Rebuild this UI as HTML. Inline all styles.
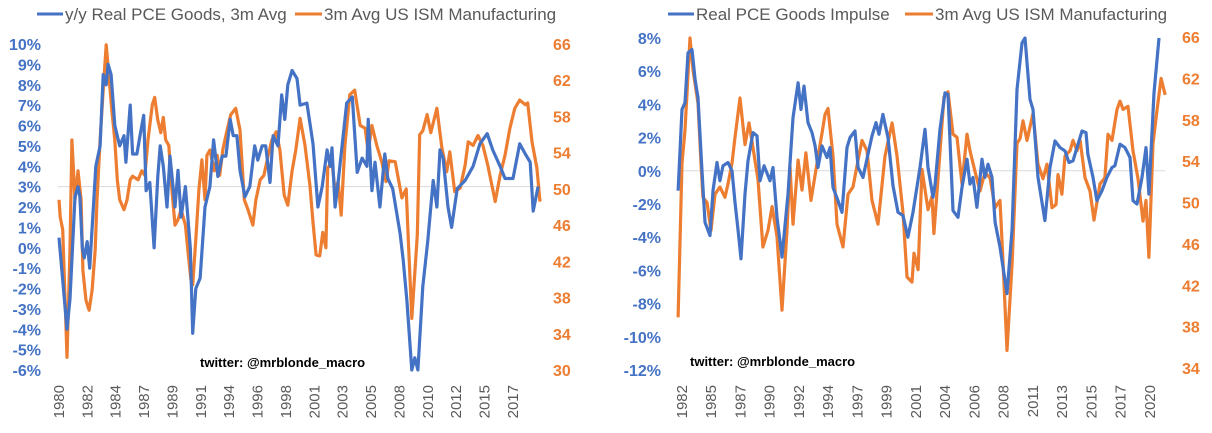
<!DOCTYPE html>
<html><head><meta charset="utf-8"><style>
html,body{margin:0;padding:0;background:#fff}
svg{display:block;font-family:"Liberation Sans",sans-serif}
.yl{font-weight:bold;font-size:16px}
.xt{font-size:15px;fill:#595959}
.lg{font-size:17px;fill:#595959}
.wm{font-weight:bold;font-size:13px;fill:#000}
</style></head><body>
<svg id="chart" width="1212" height="433" viewBox="0 0 1212 433">
<g id="left"></g>
<g id="right"></g>
</svg>
<script>
// ---------- Left panel data ----------
const lPceDates=[1980.0,1980.65,1980.9,1981.3,1981.55,1981.7,1981.9,1982.05,1982.3,1982.5,1982.8,1983.0,1983.35,1983.6,1983.85,1984.0,1984.25,1984.55,1984.95,1985.3,1985.45,1985.8,1986.0,1986.35,1986.6,1986.9,1987.1,1987.4,1987.75,1988.05,1988.25,1988.5,1988.8,1989.05,1989.45,1989.7,1989.95,1990.3,1990.7,1990.9,1991.15,1991.5,1991.9,1992.3,1992.6,1992.95,1993.3,1993.6,1993.95,1994.2,1994.5,1994.75,1995.15,1995.55,1995.95,1996.2,1996.55,1996.85,1997.2,1997.45,1997.85,1998.15,1998.4,1998.65,1999.0,1999.4,1999.65,2000.2,2000.7,2001.1,2001.45,2001.85,2002.1,2002.25,2002.5,2002.75,2003.45,2003.9,2004.3,2004.7,2005.1,2005.2,2005.5,2005.75,2006.15,2006.55,2006.8,2007.2,2007.8,2008.05,2008.35,2008.75,2009.0,2009.25,2009.65,2010.05,2010.5,2010.8,2011.05,2011.3,2011.7,2012.0,2012.45,2013.1,2013.75,2014.3,2014.9,2015.35,2015.95,2016.35,2017.0,2017.55,2018.0,2018.4,2018.65,2019.05];
const lPceVals=[0.5,-4,-2.5,2.5,3,2.5,0,-0.5,0.3,-1,2,4,5,8.5,8,9,8.5,6,5,5.5,4.2,7,4.6,4.6,5.5,6.5,2.8,3.2,0,3.5,5,4,2,4.5,2,3.8,1.5,3,0,-4.2,-2,-1.5,2,3,5.3,3.5,4.5,4.5,6.3,5.5,5.5,3.8,2.5,3,5,4.3,5,5,3.2,5.5,5,7.5,6.3,8,8.7,8.3,7,7.1,5.1,2,3,4.8,4,4.9,2,3.2,7.1,7.4,3.7,4.4,4,6.3,2.8,4.2,2,4.6,3.4,2.9,0.7,-0.6,-2.6,-6,-5.4,-6,-1.9,0.3,3.3,2,4.8,4.4,2,1,2.9,3.3,4,5.1,5.6,4.8,4,3.4,3.4,5.1,4.6,4.2,1.8,3];
const lIsmDates=[1980.0,1980.1,1980.3,1980.5,1980.65,1980.9,1981.05,1981.3,1981.55,1981.8,1981.95,1982.2,1982.45,1982.7,1982.95,1983.1,1983.35,1983.6,1983.85,1984.1,1984.3,1984.55,1984.75,1984.95,1985.3,1985.55,1985.8,1986.0,1986.45,1986.75,1987.0,1987.25,1987.6,1987.8,1988.05,1988.3,1988.5,1988.7,1988.95,1989.2,1989.45,1989.7,1989.95,1990.3,1990.5,1990.75,1990.9,1991.15,1991.4,1991.65,1991.9,1992.05,1992.3,1992.65,1992.9,1993.1,1993.35,1993.7,1994.0,1994.4,1994.75,1995.1,1995.4,1995.8,1996.05,1996.4,1996.7,1997.05,1997.35,1997.7,1998.0,1998.35,1998.65,1999.0,1999.3,1999.65,2000.05,2000.45,2000.7,2000.95,2001.25,2001.5,2001.75,2001.9,2002.25,2002.5,2002.75,2003.0,2003.3,2003.7,2004.1,2004.55,2004.95,2005.2,2005.5,2005.9,2006.3,2006.65,2006.9,2007.4,2007.95,2008.3,2008.45,2008.75,2009.2,2009.4,2009.65,2010.0,2010.3,2010.8,2011.2,2011.6,2011.85,2012.25,2012.7,2013.1,2013.35,2013.75,2014.15,2014.55,2014.95,2015.55,2015.95,2016.35,2016.75,2017.15,2017.55,2018.0,2018.2,2018.55,2018.95,2019.2];
const lIsmVals=[48.8,46.9,45.5,37.7,31.4,43.3,55.4,48.8,52,48.8,41,37.7,36.6,38.8,43.3,48.8,55.4,60.9,65.9,62,58.7,55.4,51,48.8,47.7,48.8,51,51.4,51,52,51.5,55.4,59.3,60.1,57.6,56.2,57.9,55.4,54.8,49.9,46,46.6,47.7,46,43.3,40,39.4,44.4,49.9,53.2,48.8,53.7,54.3,52,53.7,51.5,54.3,56.5,58.2,58.9,56.5,48.8,47.7,46,48.8,51,51.5,53.7,55.4,56.3,54.3,49.3,48.2,52,54.3,57.8,54.8,50.4,46.3,42.7,42.6,45.2,43.5,52.3,53,49.7,50.8,47.1,54.8,60.4,60.9,57,56.7,54.1,57,54.8,53,50.8,53.1,53,49,50,44.9,35.7,44.9,56,56.4,58.2,56.2,58.9,54.6,51.9,54.1,49.7,50.1,52.6,55.2,54.8,55.9,54.8,52.6,48.6,51.5,53.7,56.7,58.9,59.8,59.3,59.5,55.2,52.3,48.6];
const lLeftTicks=["10%","9%","8%","7%","6%","5%","4%","3%","2%","1%","0%","-1%","-2%","-3%","-4%","-5%","-6%"];
const lLeftTickVals=[10,9,8,7,6,5,4,3,2,1,0,-1,-2,-3,-4,-5,-6];
const lRightTickVals=[66,62,58,54,50,46,42,38,34,30];
const lXLabels=["1980","1982","1984","1987","1989","1991","1994","1996","1998","2001","2003","2005","2008","2010","2012","2015","2017"];

// ---------- Right panel data ----------
const rPceDates=[1981.68,1982.0,1982.24,1982.49,1982.81,1983.06,1983.3,1983.62,1983.87,1984.27,1984.52,1984.84,1985.08,1985.33,1985.73,1986.06,1986.3,1986.55,1986.79,1987.11,1987.36,1987.76,1988.09,1988.33,1988.66,1989.14,1989.39,1989.71,1990.12,1990.6,1991.01,1991.42,1991.66,1991.9,1992.23,1992.55,1992.8,1993.04,1993.36,1993.77,1994.01,1994.26,1994.66,1994.99,1995.39,1995.64,1996.04,1996.29,1996.69,1997.1,1997.42,1997.75,1997.99,1998.31,1998.72,1999.13,1999.53,1999.94,2000.34,2000.75,2001.32,2001.72,2001.97,2002.37,2002.54,2002.94,2003.35,2003.59,2004.0,2004.4,2004.73,2005.13,2005.38,2005.62,2005.94,2006.35,2006.59,2006.84,2007.16,2007.41,2007.81,2008.38,2008.79,2009.19,2009.6,2009.84,2010.25,2010.49,2010.9,2011.46,2011.87,2012.28,2012.68,2013.09,2013.41,2013.74,2014.14,2014.47,2014.79,2014.95,2015.36,2015.68,2016.09,2016.49,2016.9,2017.14,2017.55,2017.96,2018.36,2018.61,2018.93,2019.34,2019.66,2019.9,2020.31,2020.72];
const rPceVals=[-1.2,3.7,4.1,7.1,7.3,5.5,4.4,0,-3.1,-3.9,-1.2,0.5,-0.6,0.3,0.5,0,-1.9,-3.6,-5.3,-1.4,0.6,2.3,2.1,-0.6,0.3,-0.6,0.2,-2.8,-5.2,-1.4,3.2,5.3,3.7,5.1,2.9,2.3,1.5,0.2,1.5,0.8,1.4,-1,-1.8,-2.5,1.4,2,2.4,0.2,-0.4,1,2.1,2.9,2.2,3.4,2,-0.9,-2.5,-2.7,-4,-2.5,0.2,2.5,0.2,-1.6,-0.8,2.5,4.7,4.6,-2.4,-2.8,-1,0.7,-0.8,-0.4,-2.2,0.7,-0.4,0.4,-0.4,-3.1,-4.6,-7.4,-3.5,4.9,7.7,8,4.3,3.7,-0.4,-3,0.2,1.8,1.4,1.2,0.5,0.6,1.6,2.4,2.3,1,-0.4,-1.8,-1.2,-0.4,0.2,0.3,1.6,1.4,0.8,-1.8,-2,-0.4,1.4,-1.4,4.7,8];
const rIsmDates=[1981.68,1982.0,1982.24,1982.65,1982.89,1983.3,1983.54,1983.7,1984.03,1984.35,1984.68,1985.08,1985.49,1985.73,1986.06,1986.3,1986.71,1987.11,1987.44,1987.76,1988.17,1988.57,1988.98,1989.31,1989.71,1990.12,1990.52,1990.77,1991.01,1991.42,1991.74,1992.06,1992.47,1992.96,1993.36,1993.61,1993.85,1994.26,1994.58,1995.07,1995.47,1995.88,1996.29,1996.61,1997.02,1997.42,1997.91,1998.48,1999.05,1999.45,1999.94,2000.26,2000.67,2000.83,2001.16,2001.48,2001.97,2002.29,2002.45,2002.78,2003.27,2003.59,2004.0,2004.32,2004.73,2005.13,2005.38,2005.78,2006.19,2006.59,2007.0,2007.41,2007.81,2008.06,2008.38,2008.79,2009.19,2009.44,2009.68,2010.0,2010.49,2010.9,2011.3,2011.63,2012.03,2012.36,2012.52,2012.84,2013.09,2013.49,2013.74,2014.06,2014.31,2014.71,2015.12,2015.44,2015.93,2016.33,2016.58,2016.9,2017.31,2017.55,2017.8,2018.2,2018.61,2019.01,2019.42,2019.66,2019.9,2020.23,2020.56,2020.89,2021.22];
const rIsmVals=[38.9,53.8,57,65.9,62.8,59.6,53.8,50.5,50,47.3,50.8,51.5,50.5,51.8,53.8,56.3,60.1,55.6,57.7,55.3,52.2,45.7,47.3,49.6,46.7,39.6,47.3,53.5,47.9,54.1,51.2,54.8,50.2,53.8,56.7,58.5,59.1,54.5,47.9,45.7,50.8,51.5,54.1,56,55,50.2,47.9,54.5,57.7,54.5,49,42.8,42.3,45.1,43.5,53.2,49.3,50.6,47,52.3,60.2,60.7,56.6,56.3,51.8,56.6,55,53,51.1,52.9,52.4,49.5,50.2,44.1,35.7,44.1,55.7,56.2,57.9,56,58.6,53.7,52.3,53.7,49.5,49.8,52.7,50.8,54.5,55,56,55,56,52.4,51.1,48.3,51.8,52.4,56.6,56,59,59.8,59,59.3,55,52.3,48.2,50.2,44.7,55.7,59,62,60.4];
const rLeftTicks=["8%","6%","4%","2%","0%","-2%","-4%","-6%","-8%","-10%","-12%"];
const rLeftTickVals=[8,6,4,2,0,-2,-4,-6,-8,-10,-12];
const rRightTickVals=[66,62,58,54,50,46,42,38,34];
const rXLabels=["1982","1985","1987","1990","1992","1994","1997","1999","2001","2004","2006","2008","2011","2013","2015","2017","2020"];

const NS="http://www.w3.org/2000/svg";
const BLUE="#4472C4",ORANGE="#ED7D31";
function mk(tag,attrs,parent){const e=document.createElementNS(NS,tag);for(const k in attrs)e.setAttribute(k,attrs[k]);parent.appendChild(e);return e;}

function panel(g,cfg){
  const x=t=>cfg.x0+(t-cfg.t0)*cfg.pxYear;
  const yL=v=>cfg.yTop+(cfg.lMax-v)*(cfg.yBot-cfg.yTop)/(cfg.lMax-cfg.lMin);
  const yR=v=>cfg.yTop2+(cfg.rMax-v)*(cfg.yBot2-cfg.yTop2)/(cfg.rMax-cfg.rMin);
  const gl=mk('line',{x1:cfg.plotL,x2:cfg.plotR,y1:yL(cfg.gridVal),y2:yL(cfg.gridVal),stroke:'#d9d9d9','stroke-width':1},g);
  
  
  cfg.lTicks.forEach((lab,i)=>{
    const t=mk('text',{x:cfg.lLabX,y:yL(cfg.lTickVals[i])+6,'text-anchor':'end',class:'yl',fill:BLUE},g);
    t.textContent=lab;
    
    
  });
  cfg.rTickVals.forEach(v=>{
    const t=mk('text',{x:cfg.rLabX,y:yR(v)+6,'text-anchor':'start',class:'yl',fill:ORANGE},g);
    t.textContent=String(v);
    
    
  });
  cfg.xLabels.forEach((lab,i)=>{
    const tx=x(cfg.t0+i*cfg.tickStep)+5;
    const t=mk('text',{x:tx,y:cfg.xLabY,'text-anchor':'end',class:'xt',transform:`rotate(-90 ${tx} ${cfg.xLabY})`},g);
    t.textContent=lab;
    
    
  });
  const path=(d,v,f)=>d.map((t,i)=>(i?'L':'M')+x(t).toFixed(1)+' '+f(v[i]).toFixed(1)).join(' ');
  const po=mk('path',{d:path(cfg.ismD,cfg.ismV,yR),fill:'none',stroke:ORANGE,'stroke-width':3.2,'stroke-linejoin':'round'},g);
  
  
  const pb=mk('path',{d:path(cfg.pceD,cfg.pceV,yL),fill:'none',stroke:BLUE,'stroke-width':3.2,'stroke-linejoin':'round'},g);
  
  
  const l1=mk('line',{x1:cfg.lg[0],x2:cfg.lg[1],y1:14,y2:14,stroke:BLUE,'stroke-width':3},g);
  
  
  const t1=mk('text',{x:cfg.lg[1]+2,y:20,class:'lg'},g);t1.textContent=cfg.lgText[0];
  
  
  const l2=mk('line',{x1:cfg.lg[2],x2:cfg.lg[3],y1:14,y2:14,stroke:ORANGE,'stroke-width':3},g);
  
  
  const t2=mk('text',{x:cfg.lg[3]+2,y:20,class:'lg'},g);t2.textContent=cfg.lgText[1];
  
  
  const w=mk('text',{x:cfg.wm[0],y:cfg.wm[1],class:'wm'},g);w.textContent='twitter: @mrblonde_macro';
  
  
}

panel(document.getElementById('left'),{x0:59,t0:1980,pxYear:12.27,yTop:44,yBot:370,lMax:10,lMin:-6,yTop2:44,yBot2:370,rMax:66,rMin:30,
  plotL:58,plotR:541,gridVal:3,lTicks:lLeftTicks,lTickVals:lLeftTickVals,rTickVals:lRightTickVals,lLabX:41,rLabX:553,
  xLabels:lXLabels,tickStep:2.3125,xLabY:385,pceD:lPceDates,pceV:lPceVals,ismD:lIsmDates,ismV:lIsmVals,
  lg:[37,63,295,322],lgText:['y/y Real PCE Goods, 3m Avg','3m Avg US ISM Manufacturing'],wm:[200,367]});
panel(document.getElementById('right'),{x0:682,t0:1982,pxYear:12.32,yTop:38,yBot:370,lMax:8,lMin:-12,yTop2:37,yBot2:368,rMax:66,rMin:34,
  plotL:678,plotR:1165,gridVal:0,lTicks:rLeftTicks,lTickVals:rLeftTickVals,rTickVals:rRightTickVals,lLabX:661,rLabX:1182,
  xLabels:rXLabels,tickStep:2.374,xLabY:385,pceD:rPceDates,pceV:rPceVals,ismD:rIsmDates,ismV:rIsmVals,
  lg:[668,694,905,933],lgText:['Real PCE Goods Impulse','3m Avg US ISM Manufacturing'],wm:[690,366]});
</script>
</body></html>
